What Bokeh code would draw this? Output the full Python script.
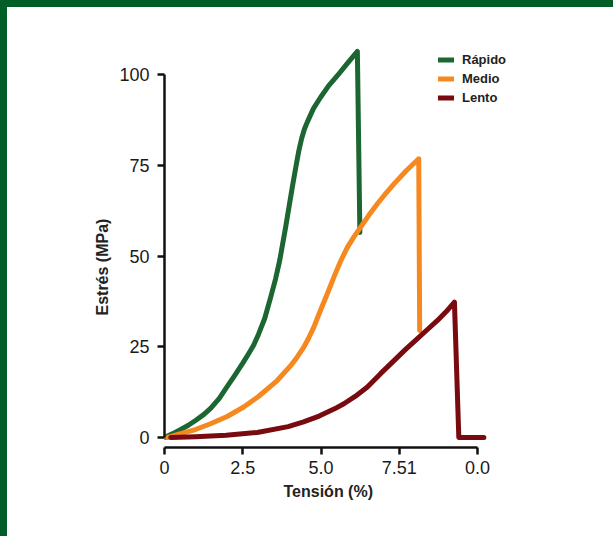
from bokeh.plotting import figure
from bokeh.models import FixedTicker, Legend, LegendItem, Title, Div
from bokeh.layouts import column, row
from bokeh.embed import file_html
from bokeh.resources import INLINE

# ---- data ----
series_names = ["Rápido", "Medio", "Lento"]

rapido_x = [0, 0.25, 0.49, 0.75, 0.99, 1.25, 1.48, 1.75, 2.0, 2.25, 2.5, 2.7, 2.85,
            3.0, 3.2, 3.39, 3.55, 3.68, 3.87, 4.08, 4.2, 4.29, 4.38, 4.47, 4.56,
            4.76, 4.98, 5.24, 5.52, 5.84, 6.16, 6.24]
rapido_y = [0, 1.0, 2.1, 3.3, 4.7, 6.3, 8.1, 10.8, 14.0, 17.2, 20.5, 23.3, 25.5,
            28.4, 32.8, 38.6, 43.8, 48.8, 58.0, 68.9, 74.8, 79.0, 82.4, 85.0, 86.9,
            90.7, 93.7, 96.9, 99.7, 103.1, 106.4, 56.5]

medio_x = [0.1, 0.49, 0.99, 1.47, 2.0, 2.53, 3.0, 3.6, 4.03, 4.24, 4.45, 4.61, 4.77,
           4.98, 5.2, 5.41, 5.62, 5.84, 6.05, 6.26, 6.53, 6.8, 7.07, 7.33, 7.72,
           8.12, 8.15]
medio_y = [0, 1.0, 2.2, 3.8, 5.8, 8.4, 11.3, 15.7, 19.8, 22.2, 24.9, 27.5, 30.4,
           35, 39.6, 44.2, 48.5, 52.4, 55.3, 57.9, 61.3, 64.4, 67.3, 69.9, 73.5,
           76.8, 29.5]

lento_x = [0.2, 0.99, 1.97, 2.96, 3.95, 4.44, 4.94, 5.43, 5.73, 6.1, 6.48, 6.9, 7.33,
           7.7, 8.07, 8.39, 8.71, 9.0, 9.26, 9.40, 10.2]
lento_y = [0, 0.2, 0.6, 1.4, 3.0, 4.3, 5.9, 7.9, 9.3, 11.4, 13.9, 17.6, 21.2,
           24.3, 27.2, 29.7, 32.2, 34.7, 37.3, 0, 0]

x_ticks = [0, 2.5, 5.0, 7.5, 10.0]
x_tick_labels = ["0", "2.5", "5.0", "7.51", "0.0"]
y_ticks = [0, 25, 50, 75, 100]

x_label = "Tensión (%)"
y_label = "Estrés (MPa)"

# ---- style ----
G = "#005e26"
colors = ["#1b6631", "#f5891f", "#780a10"]
AXIS_COLOR = "#111111"
TEXT_COLOR = "#1a1a1a"
FONT = "Liberation Sans"
BW = 7

p = figure(frame_width=356, frame_height=407,
           min_border_left=164 - BW, min_border_top=40 - BW,
           min_border_right=93, min_border_bottom=89,
           x_range=(0, 11.37), y_range=(-2.75, 109.4),
           output_backend="svg", toolbar_location=None)
p.grid.visible = False
p.outline_line_color = None
p.background_fill_color = "white"
p.border_fill_color = "white"

for ax in (p.xaxis[0], p.yaxis[0]):
    ax.axis_line_width = 2.5
    ax.axis_line_color = AXIS_COLOR
    ax.major_tick_line_width = 2.5
    ax.major_tick_line_color = AXIS_COLOR
    ax.major_tick_out = 7
    ax.major_tick_in = 0
    ax.minor_tick_line_color = None
    ax.major_label_text_font = FONT
    ax.major_label_text_font_size = "18px"
    ax.major_label_text_color = TEXT_COLOR

p.xaxis.major_label_standoff = 6
p.yaxis.major_label_standoff = 8

p.xaxis.ticker = FixedTicker(ticks=x_ticks)
p.xaxis.major_label_overrides = dict(zip(x_ticks, x_tick_labels))
p.xaxis.bounds = (0, 10)

p.yaxis.ticker = FixedTicker(ticks=y_ticks)
p.yaxis.bounds = (0, 100)

p.add_layout(Title(text=x_label, align="left", offset=119, standoff=9,
                   text_font=FONT, text_font_style="bold", text_font_size="16px",
                   text_color="#222222"), "below")
p.add_layout(Title(text=y_label, align="left", offset=132, standoff=12,
                   text_font=FONT, text_font_style="bold", text_font_size="16px",
                   text_color="#222222"), "left")

renderers = []
for xs, ys, c in zip([rapido_x, medio_x, lento_x], [rapido_y, medio_y, lento_y], colors):
    r = p.line(xs, ys, line_width=5, line_color=c, line_join="round", line_cap="round")
    renderers.append(r)

legend = Legend(items=[LegendItem(label=n, renderers=[r]) for n, r in zip(series_names, renderers)],
                location=(274, 342), glyph_width=16, glyph_height=15, label_height=15,
                spacing=4, padding=0, margin=0, border_line_color=None,
                background_fill_alpha=0, label_standoff=8,
                label_text_font=FONT, label_text_font_style="bold",
                label_text_font_size="13px", label_text_color="#222222")
p.add_layout(legend)

top_bar = Div(text="", width=606 + BW, height=BW, margin=0,
              styles={"background-color": G})
left_bar = Div(text="", width=BW, height=529, margin=0,
               styles={"background-color": G})
page = column(top_bar, row(left_bar, p, spacing=0), spacing=0)

open("out.html", "w").write(file_html(page, INLINE))
